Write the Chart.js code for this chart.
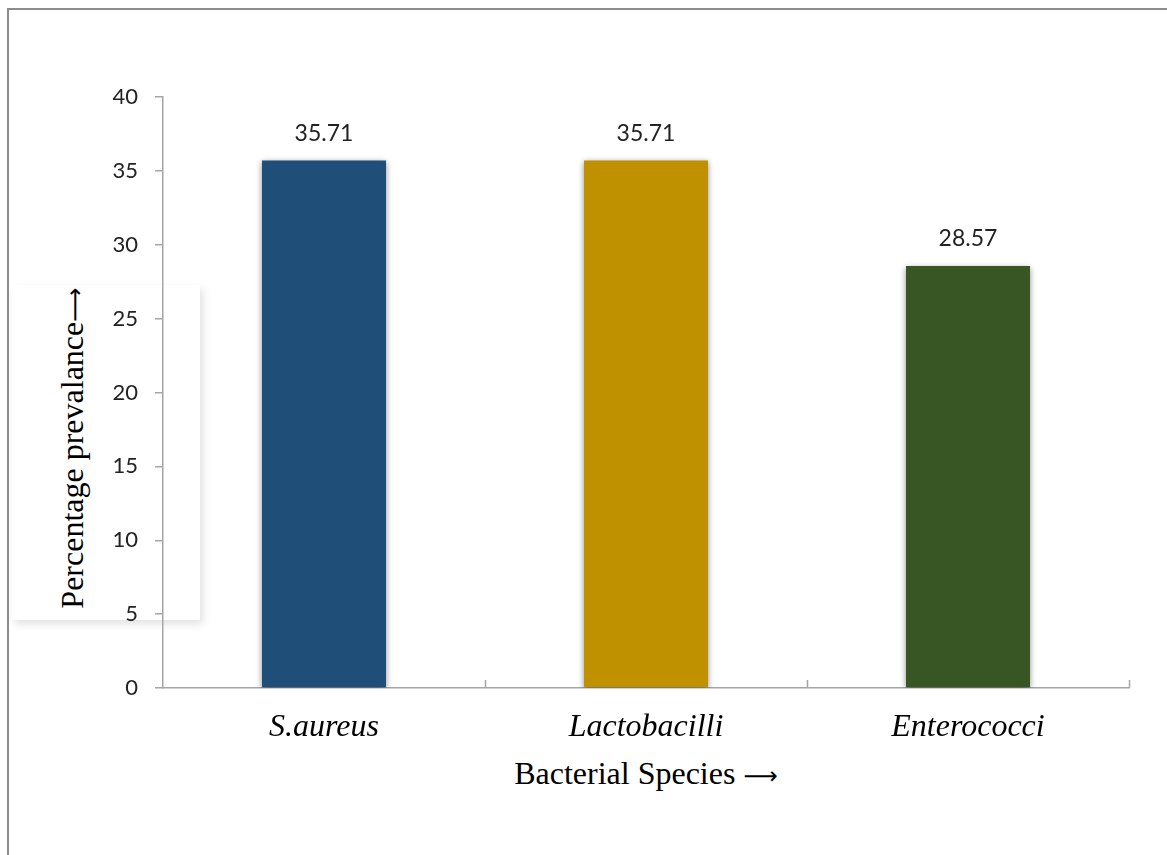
<!DOCTYPE html>
<html lang="en">
<head>
    <meta charset="UTF-8">
    <title>Bacterial Species</title>
    <script src="https://cdn.jsdelivr.net/npm/chart.js"></script>
    <style>
        body {
            margin: 0;
            background: white;
            width: 1167px;
            height: 855px;
            overflow: hidden;
            position: relative;
        }

        #frame {
            position: absolute;
            left: 7px;
            top: 8px;
            width: 1200px;
            height: 900px;
            border-top: 2px solid #8c8c8c;
            border-left: 2px solid #8c8c8c;
        }

        #yBox {
            position: absolute;
            left: 12px;
            top: 285px;
            width: 188px;
            height: 335px;
            background: white;
            box-shadow: 3px 4px 8px rgba(0, 0, 0, 0.12);
        }

        .axisTitle {
            position: absolute;
            white-space: nowrap;
            font-family: "Liberation Serif", serif;
            font-size: 32px;
            line-height: 1;
            color: #000;
        }

        .axisTitle .arr {
            font-family: "DejaVu Sans", sans-serif;
            font-size: 24px;
        }

        #yTitle {
            left: 72px;
            top: 448px;
            transform: translate(-50%, -50%) rotate(-90deg);
        }

        #xTitle {
            left: 646px;
            top: 773px;
            transform: translate(-50%, -50%);
        }

        #wrap {
            position: absolute;
            left: 0;
            top: 0;
            width: 1167px;
            height: 855px;
        }
    </style>
</head>
<body>
    <div id="frame"></div>
    <div id="yBox"></div>
    <div id="yTitle" class="axisTitle">Percentage prevalance<span class="arr">&#x27F6;</span></div>
    <div id="xTitle" class="axisTitle">Bacterial Species <span class="arr">&#x27F6;</span></div>
    <div id="wrap"><canvas id="chart" width="1167" height="855"></canvas></div>

    <script>
        const categories = ['S.aureus', 'Lactobacilli', 'Enterococci'];
        const prevalence = [35.71, 35.71, 28.57];
        const barColors = ['#1F4E79', '#BF9000', '#375623'];
        const yTicks = [0, 5, 10, 15, 20, 25, 30, 35, 40];

        // soft shadow behind the bars
        const barShadow = {
            id: 'barShadow',
            beforeDatasetDraw(chart) {
                const ctx = chart.ctx;
                ctx.save();
                ctx.shadowColor = 'rgba(0, 0, 0, 0.45)';
                ctx.shadowBlur = 6;
                ctx.shadowOffsetX = 0;
                ctx.shadowOffsetY = 2;
            },
            afterDatasetDraw(chart) {
                chart.ctx.restore();
            }
        };

        // value labels above bars + category boundary ticks on x axis
        const extras = {
            id: 'extras',
            afterDatasetsDraw(chart) {
                const ctx = chart.ctx;
                const meta = chart.getDatasetMeta(0);
                ctx.save();
                ctx.font = '23px Lato, sans-serif';
                ctx.fillStyle = '#222';
                ctx.textAlign = 'center';
                ctx.textBaseline = 'middle';
                meta.data.forEach((bar, i) => {
                    ctx.fillText(prevalence[i].toFixed(2), bar.x, bar.y - 27);
                });

                const x = chart.scales.x;
                const half = (x.getPixelForValue(1) - x.getPixelForValue(0)) / 2;
                ctx.strokeStyle = '#a6a6a6';
                ctx.lineWidth = 1.5;
                for (let i = 0; i < categories.length; i++) {
                    const px = Math.round(x.getPixelForValue(i) + half) + 0.5;
                    ctx.beginPath();
                    ctx.moveTo(px, x.top - 8);
                    ctx.lineTo(px, x.top);
                    ctx.stroke();
                }
                ctx.restore();
            }
        };

        new Chart(document.getElementById('chart').getContext('2d'), {
            type: 'bar',
            data: {
                labels: categories,
                datasets: [{
                    data: prevalence,
                    backgroundColor: barColors,
                    borderWidth: 0,
                    barPercentage: 0.385,
                    categoryPercentage: 1
                }]
            },
            options: {
                responsive: false,
                animation: false,
                layout: {
                    padding: { top: 97, right: 38, bottom: 0, left: 0 }
                },
                plugins: {
                    legend: { display: false },
                    tooltip: { enabled: false }
                },
                scales: {
                    x: {
                        grid: { display: false, drawTicks: false },
                        border: { color: '#a6a6a6', width: 1.5 },
                        ticks: {
                            padding: 20,
                            color: '#000',
                            font: { family: '"Liberation Serif", serif', size: 32, style: 'italic' }
                        },
                        afterFit(scale) { scale.height = 167; }
                    },
                    y: {
                        min: 0,
                        max: 40,
                        afterBuildTicks(scale) {
                            scale.ticks = yTicks.map(v => ({ value: v }));
                        },
                        grid: {
                            drawOnChartArea: false,
                            tickLength: 8,
                            color: '#a6a6a6',
                            lineWidth: 1.5
                        },
                        border: { color: '#a6a6a6', width: 1.5 },
                        ticks: {
                            padding: 17,
                            color: '#222',
                            font: { family: 'Lato, sans-serif', size: 22 }
                        },
                        afterFit(scale) { scale.width = 163; }
                    }
                }
            },
            plugins: [barShadow, extras]
        });
    </script>
</body>
</html>
